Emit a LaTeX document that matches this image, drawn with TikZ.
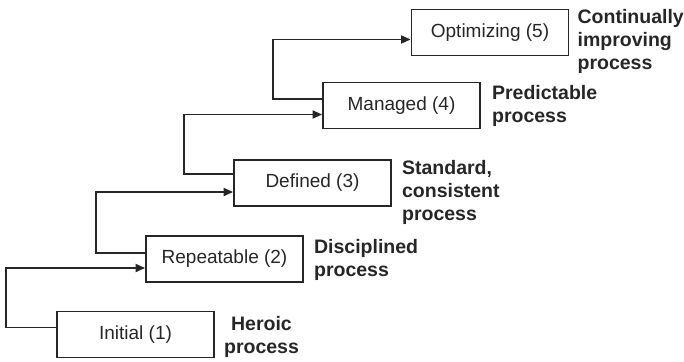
\documentclass[tikz,border=0pt]{standalone}
\usepackage{fontspec}
\setmainfont{Liberation Sans}
\usetikzlibrary{arrows.meta}
\begin{document}
\begin{tikzpicture}[x=1pt,y=-1pt,
  level/.style={draw=black!85, line width=1.8pt, minimum width=157pt, minimum height=46pt,
    inner sep=0pt, font=\fontsize{19}{22}\selectfont, text=black!85},
  note/.style={anchor=north west, inner sep=0pt, align=left,
    font=\fontsize{19.5}{23}\selectfont\bfseries, text=black!85},
  link/.style={draw=black!85, line width=1.8pt,
    -{Triangle[length=9.5pt,width=8pt]}}]
  \useasboundingbox (0,0) rectangle (684,361);

  % maturity levels
  \node[level] (l1) at (135.5,334.5) {Initial (1)};
  \node[level] (l2) at (224.5,259)   {Repeatable (2)};
  \node[level] (l3) at (312.5,183)   {Defined (3)};
  \node[level] (l4) at (401.5,105.5) {Managed (4)};
  \node[level] (l5) at (490,32.5)    {Optimizing (5)};

  % process characteristics
  \node[note, align=center] (n1) at ([xshift=9pt,yshift=-6pt]l1.north east) {Heroic\\process};
  \node[note] (n2) at ([xshift=10pt,yshift=-4pt]l2.north east) {Disciplined\\process};
  \node[note] (n3) at ([xshift=10pt,yshift=-1pt]l3.north east) {Standard,\\consistent\\process};
  \node[note] (n4) at ([xshift=11pt,yshift=-4pt]l4.north east) {Predictable\\process};
  \node[note] (n5) at ([xshift=8pt,yshift=-1pt]l5.north east) {Continually\\improving\\process};

  % step-up connectors
  \draw[link] ([yshift=7pt]l1.west) -- ++(-50,0) |- ([yshift=-9pt]l2.west);
  \draw[link] ([yshift=6pt]l2.west) -- ++(-49,0) |- ([yshift=-9pt]l3.west);
  \draw[link] ([yshift=9pt]l3.west) -- ++(-49,0) |- ([yshift=-9pt]l4.west);
  \draw[link] ([yshift=6.5pt]l4.west) -- ++(-49,0) |- ([yshift=-7pt]l5.west);
\end{tikzpicture}
\end{document}
